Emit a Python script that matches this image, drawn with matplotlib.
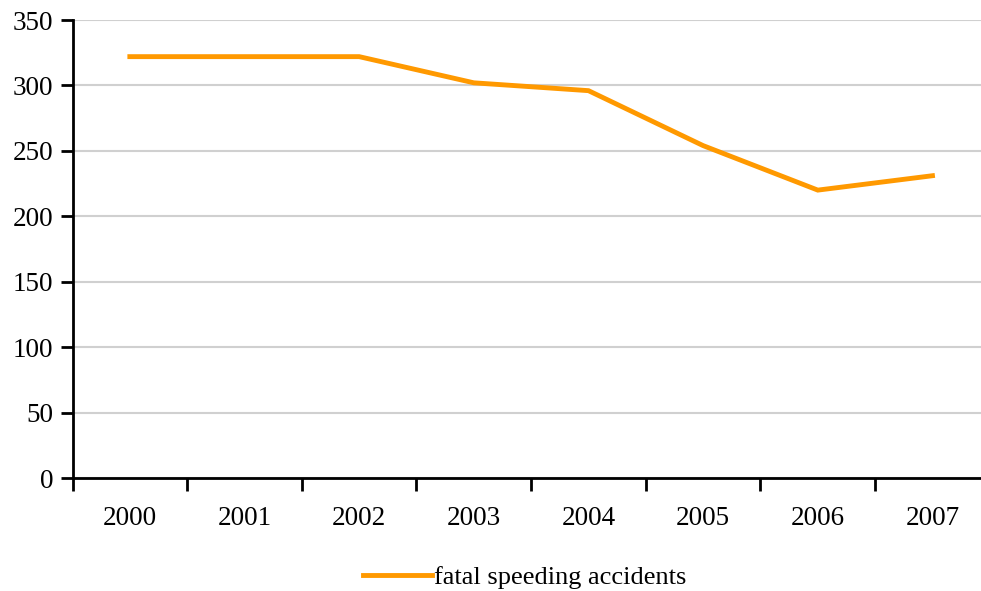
import matplotlib.pyplot as plt
import numpy as np

years = ['2000', '2001', '2002', '2003', '2004', '2005', '2006', '2007']
accidents = [322, 322, 322, 302, 296, 254, 220, 231]

plt.rcParams['font.family'] = ['Liberation Serif', 'DejaVu Serif']

fig = plt.figure(figsize=(9.81, 5.91), dpi=100)
ax = fig.add_axes([72.5 / 981, 113 / 591, 917.3 / 981, 458 / 591])

x = np.arange(len(years))
ax.plot(x, accidents, color='#FF9900', linewidth=3.5, solid_joinstyle='miter',
        label='fatal speeding accidents', zorder=3)

ax.set_xlim(-0.5, len(years) - 0.5)
ax.set_ylim(0, 350)
ax.set_yticks(np.arange(0, 351, 50))
ax.yaxis.grid(True, color='#D0D0D0', linewidth=1.5)
ax.set_axisbelow(True)

# category labels at centres, tick marks on the boundaries
ax.set_xticks(x)
ax.set_xticklabels(years)
ax.set_xticks(np.arange(-0.5, len(years)), minor=True)
ax.tick_params(axis='x', which='major', length=0, pad=20, labelsize=19.5)
ax.tick_params(axis='x', which='minor', length=9, width=2, direction='out')
ax.tick_params(axis='y', length=9, width=2, direction='out', pad=5, labelsize=19.5)

for side in ['top', 'right']:
    ax.spines[side].set_visible(False)
for side in ['left', 'bottom']:
    ax.spines[side].set_linewidth(2)

fig.legend(loc='center', bbox_to_anchor=(525 / 981, 14 / 591), frameon=False,
           fontsize=19, handlelength=2.6, handletextpad=0.1)

fig.savefig('out.png', dpi=100)
